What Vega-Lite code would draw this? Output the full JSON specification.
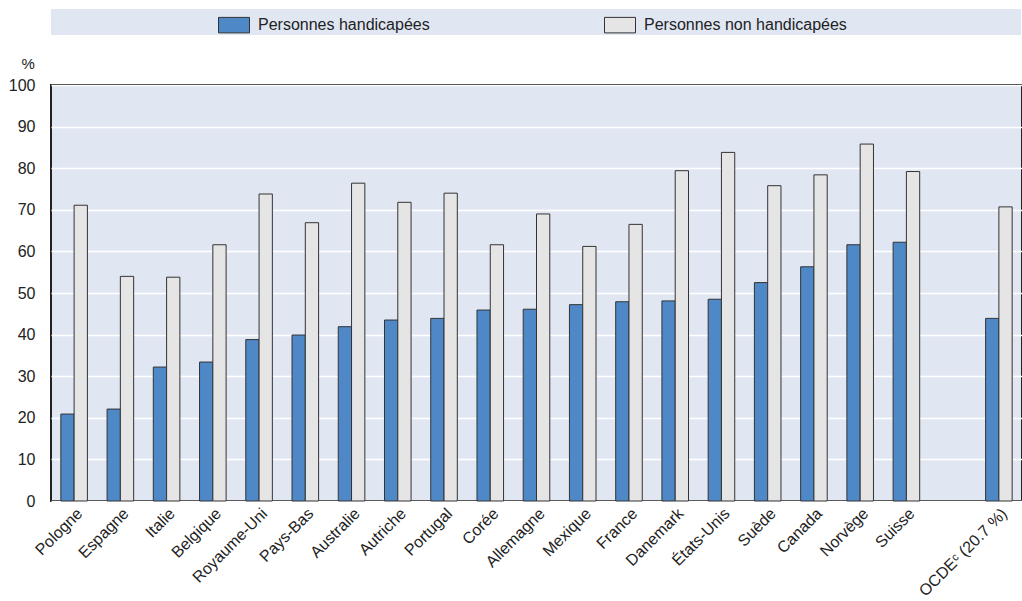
{
  "$schema": "https://vega.github.io/schema/vega-lite/v6.json",
  "autosize": {"type": "none"},
  "padding": {"left": 51, "top": 85, "right": 0, "bottom": 100},
  "width": 971,
  "height": 416,
  "background": "#ffffff",
  "config": {
    "font": "Liberation Sans, Arial, sans-serif",
    "view": {"fill": "#E0E7F3", "stroke": "#222222", "strokeWidth": 2}
  },
  "data": {
    "values": [
      {"pays": "Pologne", "groupe": "Personnes handicapées", "valeur": 20.9},
      {"pays": "Pologne", "groupe": "Personnes non handicapées", "valeur": 71.1},
      {"pays": "Espagne", "groupe": "Personnes handicapées", "valeur": 22.1},
      {"pays": "Espagne", "groupe": "Personnes non handicapées", "valeur": 54.0},
      {"pays": "Italie", "groupe": "Personnes handicapées", "valeur": 32.2},
      {"pays": "Italie", "groupe": "Personnes non handicapées", "valeur": 53.8},
      {"pays": "Belgique", "groupe": "Personnes handicapées", "valeur": 33.4},
      {"pays": "Belgique", "groupe": "Personnes non handicapées", "valeur": 61.6},
      {"pays": "Royaume-Uni", "groupe": "Personnes handicapées", "valeur": 38.8},
      {"pays": "Royaume-Uni", "groupe": "Personnes non handicapées", "valeur": 73.8},
      {"pays": "Pays-Bas", "groupe": "Personnes handicapées", "valeur": 39.9},
      {"pays": "Pays-Bas", "groupe": "Personnes non handicapées", "valeur": 66.9},
      {"pays": "Australie", "groupe": "Personnes handicapées", "valeur": 41.9},
      {"pays": "Australie", "groupe": "Personnes non handicapées", "valeur": 76.4},
      {"pays": "Autriche", "groupe": "Personnes handicapées", "valeur": 43.5},
      {"pays": "Autriche", "groupe": "Personnes non handicapées", "valeur": 71.8},
      {"pays": "Portugal", "groupe": "Personnes handicapées", "valeur": 43.9},
      {"pays": "Portugal", "groupe": "Personnes non handicapées", "valeur": 74.0},
      {"pays": "Corée", "groupe": "Personnes handicapées", "valeur": 45.9},
      {"pays": "Corée", "groupe": "Personnes non handicapées", "valeur": 61.6},
      {"pays": "Allemagne", "groupe": "Personnes handicapées", "valeur": 46.1},
      {"pays": "Allemagne", "groupe": "Personnes non handicapées", "valeur": 69.0},
      {"pays": "Mexique", "groupe": "Personnes handicapées", "valeur": 47.2},
      {"pays": "Mexique", "groupe": "Personnes non handicapées", "valeur": 61.2},
      {"pays": "France", "groupe": "Personnes handicapées", "valeur": 47.9},
      {"pays": "France", "groupe": "Personnes non handicapées", "valeur": 66.5},
      {"pays": "Danemark", "groupe": "Personnes handicapées", "valeur": 48.1},
      {"pays": "Danemark", "groupe": "Personnes non handicapées", "valeur": 79.4},
      {"pays": "États-Unis", "groupe": "Personnes handicapées", "valeur": 48.5},
      {"pays": "États-Unis", "groupe": "Personnes non handicapées", "valeur": 83.8},
      {"pays": "Suède", "groupe": "Personnes handicapées", "valeur": 52.5},
      {"pays": "Suède", "groupe": "Personnes non handicapées", "valeur": 75.8},
      {"pays": "Canada", "groupe": "Personnes handicapées", "valeur": 56.3},
      {"pays": "Canada", "groupe": "Personnes non handicapées", "valeur": 78.4},
      {"pays": "Norvège", "groupe": "Personnes handicapées", "valeur": 61.6},
      {"pays": "Norvège", "groupe": "Personnes non handicapées", "valeur": 85.8},
      {"pays": "Suisse", "groupe": "Personnes handicapées", "valeur": 62.2},
      {"pays": "Suisse", "groupe": "Personnes non handicapées", "valeur": 79.2},
      {"pays": "OCDEᶜ (20.7 %)", "groupe": "Personnes handicapées", "valeur": 43.9},
      {"pays": "OCDEᶜ (20.7 %)", "groupe": "Personnes non handicapées", "valeur": 70.7}
    ]
  },
  "mark": {"type": "bar", "stroke": "#333333", "strokeWidth": 1},
  "encoding": {
    "x": {
      "field": "pays",
      "type": "nominal",
      "sort": null,
      "scale": {
        "domain": ["Pologne", "Espagne", "Italie", "Belgique", "Royaume-Uni", "Pays-Bas", "Australie", "Autriche", "Portugal", "Corée", "Allemagne", "Mexique", "France", "Danemark", "États-Unis", "Suède", "Canada", "Norvège", "Suisse", " ", "OCDEᶜ (20.7 %)"],
        "paddingInner": 0,
        "paddingOuter": 0
      },
      "axis": {
        "title": null,
        "labelAngle": -45,
        "labelFontSize": 16,
        "labelColor": "#222222",
        "labelPadding": 4,
        "ticks": false,
        "domain": false,
        "grid": false,
        "labelLimit": 300
      }
    },
    "xOffset": {
      "field": "groupe",
      "type": "nominal",
      "scale": {"paddingInner": 0, "paddingOuter": 0.74}
    },
    "y": {
      "field": "valeur",
      "type": "quantitative",
      "scale": {"domain": [0, 100], "nice": false},
      "axis": {
        "title": "%",
        "titleAngle": 0,
        "titleX": -30,
        "titleY": -22,
        "titleAlign": "left",
        "titleBaseline": "middle",
        "titleFontSize": 15,
        "titleFontWeight": "normal",
        "titleColor": "#222222",
        "values": [0, 10, 20, 30, 40, 50, 60, 70, 80, 90, 100],
        "labelFontSize": 16,
        "labelColor": "#222222",
        "labelPadding": 16,
        "ticks": false,
        "domain": false,
        "grid": true,
        "gridColor": "#ffffff",
        "gridWidth": 1.5,
        "gridOpacity": 1
      }
    },
    "color": {
      "field": "groupe",
      "type": "nominal",
      "scale": {
        "domain": ["Personnes handicapées", "Personnes non handicapées"],
        "range": ["#4E88C7", "#E5E5E5"]
      },
      "legend": {
        "orient": "none",
        "legendX": 0,
        "legendY": -76,
        "direction": "horizontal",
        "fillColor": "#E0E7F3",
        "padding": 0,
        "title": "\u00a0",
        "titleFontSize": 16,
        "titleOrient": "left",
        "titlePadding": 167,
        "columnPadding": 172,
        "symbolType": "M-1,-0.5H1V0.5H-1Z",
        "symbolSize": 961,
        "symbolStrokeColor": "#333333",
        "symbolStrokeWidth": 1,
        "symbolOpacity": 1,
        "labelFontSize": 16,
        "labelColor": "#222222",
        "labelOffset": 8,
        "labelLimit": 1000,
        "labelExpr": "length(datum.label) > 22 ? datum.label + '\u00a0\u00a0\u00a0\u00a0\u00a0\u00a0\u00a0\u00a0\u00a0\u00a0\u00a0\u00a0\u00a0\u00a0\u00a0\u00a0\u00a0\u00a0\u00a0\u00a0\u00a0\u00a0\u00a0\u00a0\u00a0\u00a0\u00a0\u00a0\u00a0\u00a0\u00a0\u00a0\u00a0\u00a0\u00a0\u00a0\u00a0\u00a0\u00a0\u200b' : datum.label"
      }
    }
  }
}
